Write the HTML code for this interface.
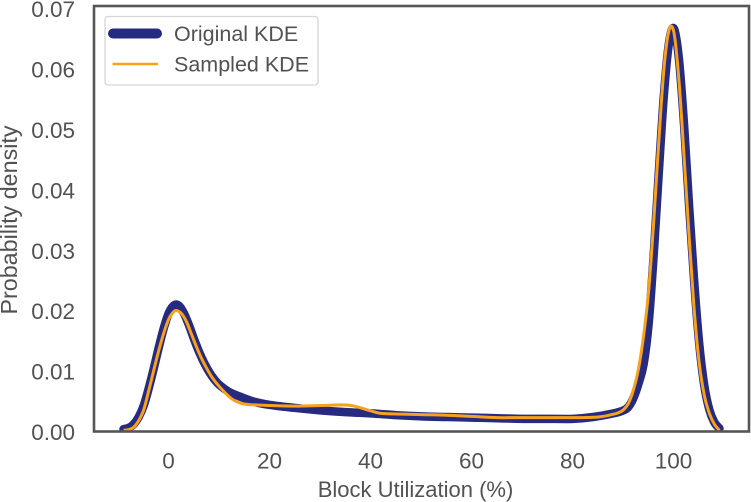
<!DOCTYPE html>
<html>
<head>
<meta charset="utf-8">
<style>
html,body{margin:0;padding:0;background:#fff;width:751px;height:502px;overflow:hidden}
svg{display:block}
text{font-family:"Liberation Sans",sans-serif;fill:#525252}
</style>
</head>
<body>
<svg id="chart" width="751" height="502" viewBox="0 0 751 502" xmlns="http://www.w3.org/2000/svg">
<defs><clipPath id="plot-clip"><rect x="94" y="6" width="655" height="425.5"></rect></clipPath></defs>
<g id="series" clip-path="url(#plot-clip)"></g>
<g id="labels"></g>
<rect x="94" y="6" width="655" height="425.5" fill="none" stroke="#565656" stroke-width="2.6"></rect>
<rect x="105" y="16.500" width="213" height="68.500" rx="3" fill="#fff" fill-opacity="0.85" stroke="#d6d6d6" stroke-width="1.300"></rect>
<line x1="113" y1="33.500" x2="157" y2="33.500" stroke="#262b80" stroke-width="10" stroke-linecap="round"></line>
<line x1="112.500" y1="64" x2="158" y2="64" stroke="#f9a11b" stroke-width="2.600"></line>
<text x="174" y="41" font-size="21.500">Original KDE</text>
<text x="174" y="71.500" font-size="21.500">Sampled KDE</text>
<text x="415.500" y="497" font-size="22" text-anchor="middle">Block Utilization (%)</text>
<text transform="translate(17,220) rotate(-90)" font-size="23.300" text-anchor="middle">Probability density</text>
</svg>
<script>
const xTicks = [0, 20, 40, 60, 80, 100];
const yTicks = [0, 0.01, 0.02, 0.03, 0.04, 0.05, 0.06, 0.07];
const originalX = [-9, -8, -7, -6, -5, -4, -3, -2, -1, 0, 1, 2, 3, 4, 5, 6, 7, 8, 9, 10, 12, 14, 17, 20, 25, 30, 35, 40, 45, 50, 55, 60, 65, 70, 75, 80, 84, 88, 90, 91, 92, 93, 94, 95, 96, 97, 98, 99, 100, 101, 102, 103, 104, 105, 106, 107, 108, 109];
const originalY = [0.0004, 0.0006, 0.0012, 0.0024, 0.0043, 0.0072, 0.0105, 0.0140, 0.0172, 0.0197, 0.0209, 0.0208, 0.0195, 0.0175, 0.0152, 0.0131, 0.0113, 0.0098, 0.0086, 0.0077, 0.0065, 0.0058, 0.0049, 0.0044, 0.0039, 0.0035, 0.0032, 0.0030, 0.0027, 0.0025, 0.0024, 0.0023, 0.0022, 0.0021, 0.0021, 0.0021, 0.0024, 0.0030, 0.0035, 0.0041, 0.0056, 0.0080, 0.0112, 0.0180, 0.0295, 0.0430, 0.0557, 0.0643, 0.0667, 0.0615, 0.0507, 0.0372, 0.0248, 0.0145, 0.0076, 0.0036, 0.0015, 0.0005];
const sampledX = [-9, -8, -7, -6, -5, -4, -3, -2, -1, 0, 1, 1.6, 2.5, 3.5, 4.5, 5.5, 6.5, 7.5, 8.5, 9.5, 11, 12, 13, 14.6, 17, 20, 25, 30, 34, 36, 38, 40, 42, 45, 50, 55, 60, 65, 70, 75, 81, 85, 87.7, 89, 90, 91, 92, 93, 94, 95, 96, 97, 98, 99, 100, 101, 102, 103, 104, 105, 106, 107, 108, 109];
const sampledY = [0.0002, 0.0003, 0.0007, 0.0018, 0.0036, 0.0068, 0.0102, 0.0135, 0.0164, 0.0187, 0.0199, 0.0200, 0.0195, 0.0181, 0.0160, 0.0139, 0.0120, 0.0104, 0.0090, 0.0079, 0.0065, 0.0057, 0.0051, 0.0046, 0.0044, 0.0043, 0.0042, 0.0043, 0.0044, 0.0043, 0.0039, 0.0034, 0.0030, 0.0029, 0.0028, 0.0027, 0.0025, 0.0023, 0.0023, 0.0023, 0.0023, 0.0024, 0.0028, 0.0031, 0.0036, 0.0047, 0.0070, 0.0105, 0.0160, 0.0235, 0.0350, 0.0482, 0.0600, 0.0664, 0.0660, 0.0579, 0.0454, 0.0322, 0.0201, 0.0113, 0.0060, 0.0030, 0.0012, 0.0002];

const svgNS = 'http://www.w3.org/2000/svg';
const xScale = v => 169 + v * 5.05;
const yScale = v => 431.5 - v * 60.4 * 100;

function curvePath(xs, ys) {
  const p = xs.map((x, i) => [xScale(x), yScale(ys[i])]);
  let d = 'M' + p[0][0].toFixed(2) + ' ' + p[0][1].toFixed(2);
  for (let i = 0; i < p.length - 1; i++) {
    const a = p[Math.max(i - 1, 0)], b = p[i], c = p[i + 1], e = p[Math.min(i + 2, p.length - 1)];
    const c1 = [b[0] + (c[0] - a[0]) / 6, b[1] + (c[1] - a[1]) / 6];
    const c2 = [c[0] - (e[0] - b[0]) / 6, c[1] - (e[1] - b[1]) / 6];
    d += 'C' + c1[0].toFixed(2) + ' ' + c1[1].toFixed(2) + ' ' + c2[0].toFixed(2) + ' ' + c2[1].toFixed(2) + ' ' + c[0].toFixed(2) + ' ' + c[1].toFixed(2);
  }
  return d;
}

const seriesGroup = document.getElementById('series');
const labelGroup = document.getElementById('labels');

const originalPath = document.createElementNS(svgNS, 'path');


originalPath.setAttribute('d', curvePath(originalX, originalY));
originalPath.setAttribute('fill', 'none');
originalPath.setAttribute('stroke', '#262b80');
originalPath.setAttribute('stroke-width', '8.5');
originalPath.setAttribute('stroke-linecap', 'round');
originalPath.setAttribute('stroke-linejoin', 'round');
seriesGroup.appendChild(originalPath);

const sampledPath = document.createElementNS(svgNS, 'path');


sampledPath.setAttribute('d', curvePath(sampledX, sampledY));
sampledPath.setAttribute('fill', 'none');
sampledPath.setAttribute('stroke', '#f9a11b');
sampledPath.setAttribute('stroke-width', '3');
sampledPath.setAttribute('stroke-linejoin', 'round');
seriesGroup.appendChild(sampledPath);

xTicks.forEach(v => {
  const t = document.createElementNS(svgNS, 'text');
  
  
  t.setAttribute('x', xScale(v) - 0.5);
  t.setAttribute('y', 468.5);
  t.setAttribute('font-size', '22.5');
  t.setAttribute('text-anchor', 'middle');
  t.textContent = String(v);
  labelGroup.appendChild(t);
});

yTicks.forEach(v => {
  const t = document.createElementNS(svgNS, 'text');
  
  
  t.setAttribute('x', 75);
  t.setAttribute('y', yScale(v) + 8.5);
  t.setAttribute('font-size', '22.5');
  t.setAttribute('text-anchor', 'end');
  t.textContent = v.toFixed(2);
  labelGroup.appendChild(t);
});
</script>
</body>
</html>
